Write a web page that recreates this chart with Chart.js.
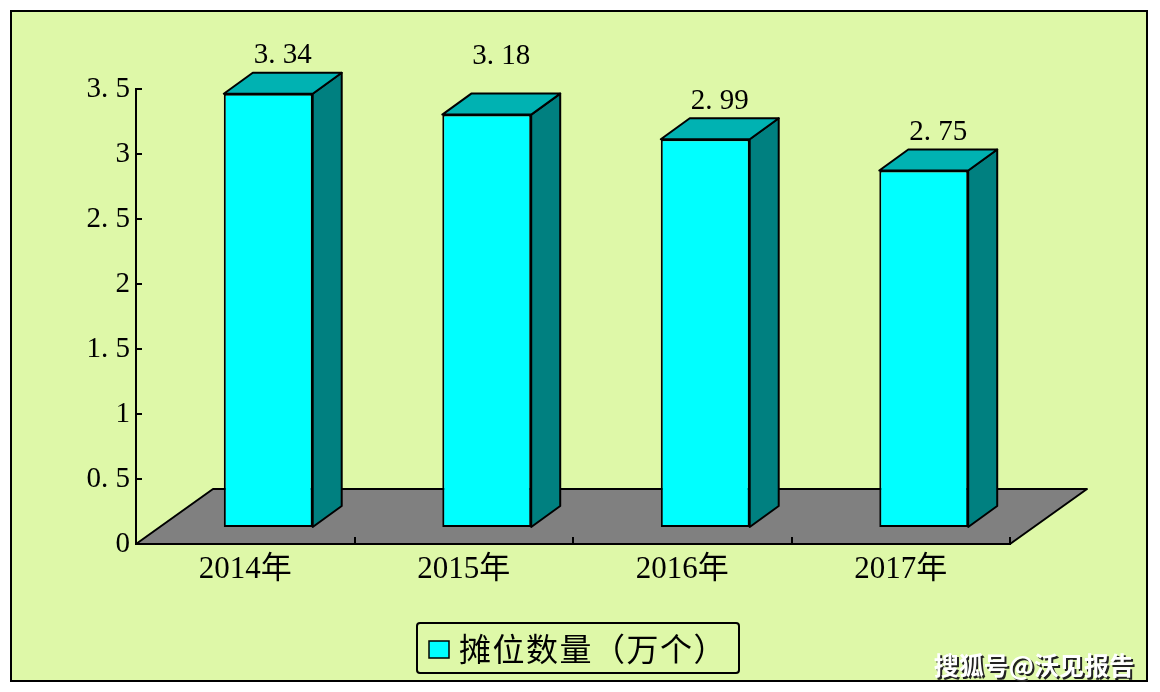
<!DOCTYPE html>
<html><head><meta charset="utf-8">
<script src="https://cdn.jsdelivr.net/npm/chart.js@4.4.1/dist/chart.umd.min.js"></script>
<style>html,body{margin:0;padding:0;background:#fff;overflow:hidden}#wrap{width:1160px;height:692px;position:relative}canvas{display:block}</style>
</head><body><div id="wrap"><canvas id="c" width="1160" height="692"></canvas></div>
<script>
const categories = ['2014年', '2015年', '2016年', '2017年'];
const stallCounts = [3.34, 3.18, 2.99, 2.75];
const yTicks = [0, 0.5, 1, 1.5, 2, 2.5, 3, 3.5];
const seriesName = '摊位数量（万个）';
const watermark = '搜狐号@沃见报告';

const BG = '#DEF8A8';
const FLOOR_DX = 77, FLOOR_DY = -55;
const SHIFT_X = 23, SHIFT_Y = -16;
const DEPTH_X = 29, DEPTH_Y = -21;
const labelLift = [17, 37, 17, 17];
const SERIF = "'Liberation Serif', 'Noto Sans CJK SC', serif";
const CJK = "'Noto Sans CJK SC', sans-serif";
const fmt = v => String(v).replace('.', '. ');

const threeD = {
  id: 'threeD',
  beforeDraw(chart) {
    const ctx = chart.ctx, a = chart.chartArea;
    ctx.save();
    ctx.fillStyle = '#fff'; ctx.fillRect(0, 0, chart.width, chart.height);
    ctx.fillStyle = BG; ctx.fillRect(11, 11, 1136, 670);
    ctx.lineWidth = 2; ctx.strokeStyle = '#000'; ctx.strokeRect(11, 11, 1136, 670);
    ctx.beginPath();
    ctx.moveTo(a.left, a.bottom);
    ctx.lineTo(a.right, a.bottom);
    ctx.lineTo(a.right + FLOOR_DX, a.bottom + FLOOR_DY);
    ctx.lineTo(a.left + FLOOR_DX, a.bottom + FLOOR_DY);
    ctx.closePath();
    ctx.fillStyle = '#808080'; ctx.fill();
    ctx.lineJoin = 'round'; ctx.stroke();
    ctx.restore();
  },
  beforeDatasetDraw(chart) {
    chart.ctx.save();
    chart.ctx.translate(SHIFT_X, SHIFT_Y);
  },
  afterDatasetDraw(chart, args) {
    const ctx = chart.ctx;
    args.meta.data.forEach(bar => {
      const p = bar.getProps(['x', 'y', 'base', 'width'], true);
      const l = p.x - p.width / 2, r = p.x + p.width / 2;
      ctx.lineWidth = 2; ctx.strokeStyle = '#000'; ctx.lineJoin = 'round';
      ctx.beginPath();
      ctx.moveTo(r, p.y); ctx.lineTo(r + DEPTH_X, p.y + DEPTH_Y);
      ctx.lineTo(r + DEPTH_X, p.base + DEPTH_Y); ctx.lineTo(r, p.base);
      ctx.closePath();
      ctx.fillStyle = '#008080'; ctx.fill(); ctx.stroke();
      ctx.beginPath();
      ctx.moveTo(l, p.y); ctx.lineTo(l + DEPTH_X, p.y + DEPTH_Y);
      ctx.lineTo(r + DEPTH_X, p.y + DEPTH_Y); ctx.lineTo(r, p.y);
      ctx.closePath();
      ctx.fillStyle = '#00B2B2'; ctx.fill(); ctx.stroke();
    });
    ctx.restore();
  },
  afterDatasetsDraw(chart) {
    const ctx = chart.ctx;
    const meta = chart.getDatasetMeta(0);
    ctx.save();
    ctx.font = '29px ' + SERIF; ctx.fillStyle = '#000';
    ctx.textAlign = 'center'; ctx.textBaseline = 'middle';
    meta.data.forEach((bar, i) => {
      const v = chart.data.datasets[0].data[i];
      ctx.fillText(fmt(v), bar.x + SHIFT_X + DEPTH_X / 2, bar.y + SHIFT_Y + DEPTH_Y - labelLift[i]);
    });
    ctx.restore();
  },
  afterDraw(chart) {
    const ctx = chart.ctx;
    const ds = chart.data.datasets[0];
    ctx.save();
    // legend
    ctx.lineWidth = 2; ctx.strokeStyle = '#000';
    ctx.beginPath();
    if (ctx.roundRect) ctx.roundRect(417, 623, 322, 50, 3); else ctx.rect(417, 623, 322, 50);
    ctx.stroke();
    ctx.fillStyle = ds.backgroundColor; ctx.fillRect(429, 641, 20, 17);
    ctx.lineWidth = 1.5; ctx.strokeRect(429, 641, 20, 17);
    ctx.fillStyle = '#000'; ctx.font = '32px ' + CJK;
    ctx.textAlign = 'left'; ctx.textBaseline = 'middle';
    if ('letterSpacing' in ctx) ctx.letterSpacing = '1.5px';
    ctx.fillText(ds.label, 459, 649);
    if ('letterSpacing' in ctx) ctx.letterSpacing = '0px';
    // watermark
    ctx.font = 'bold 25px ' + CJK;
    ctx.textAlign = 'right';
    ctx.fillStyle = '#222';
    ctx.fillText(watermark, 1136, 667);
    ctx.fillStyle = '#fff';
    ctx.fillText(watermark, 1134, 665);
    ctx.restore();
  }
};

new Chart(document.getElementById('c'), {
  type: 'bar',
  data: {
    labels: categories,
    datasets: [{
      label: seriesName,
      data: stallCounts,
      backgroundColor: '#00FFFF',
      borderColor: '#000',
      borderWidth: 2,
      borderSkipped: false,
      categoryPercentage: 1,
      barPercentage: 0.407,
      clip: false
    }]
  },
  options: {
    responsive: false,
    animation: false,
    devicePixelRatio: 1,
    layout: { padding: { top: 89, left: 0, right: 150, bottom: 88 } },
    plugins: { legend: { display: false }, tooltip: { enabled: false } },
    scales: {
      x: {
        afterFit: s => { s.height = 60; },
        grid: { display: true, drawOnChartArea: false, tickLength: -7, color: '#000', lineWidth: 2 },
        border: { display: true, color: '#000', width: 2 },
        ticks: { color: '#000', font: { family: SERIF, size: 31 }, padding: 14, maxRotation: 0 }
      },
      y: {
        min: 0, max: 3.5,
        afterFit: s => { s.width = 136; },
        afterBuildTicks: s => { s.ticks = yTicks.map(v => ({ value: v })); },
        grid: { display: true, drawOnChartArea: false, tickLength: -6, color: '#000', lineWidth: 2 },
        border: { display: true, color: '#000', width: 2 },
        ticks: { color: '#000', font: { family: SERIF, size: 29 }, padding: 12, callback: v => fmt(v) }
      }
    }
  },
  plugins: [threeD]
});
</script>
</body></html>
